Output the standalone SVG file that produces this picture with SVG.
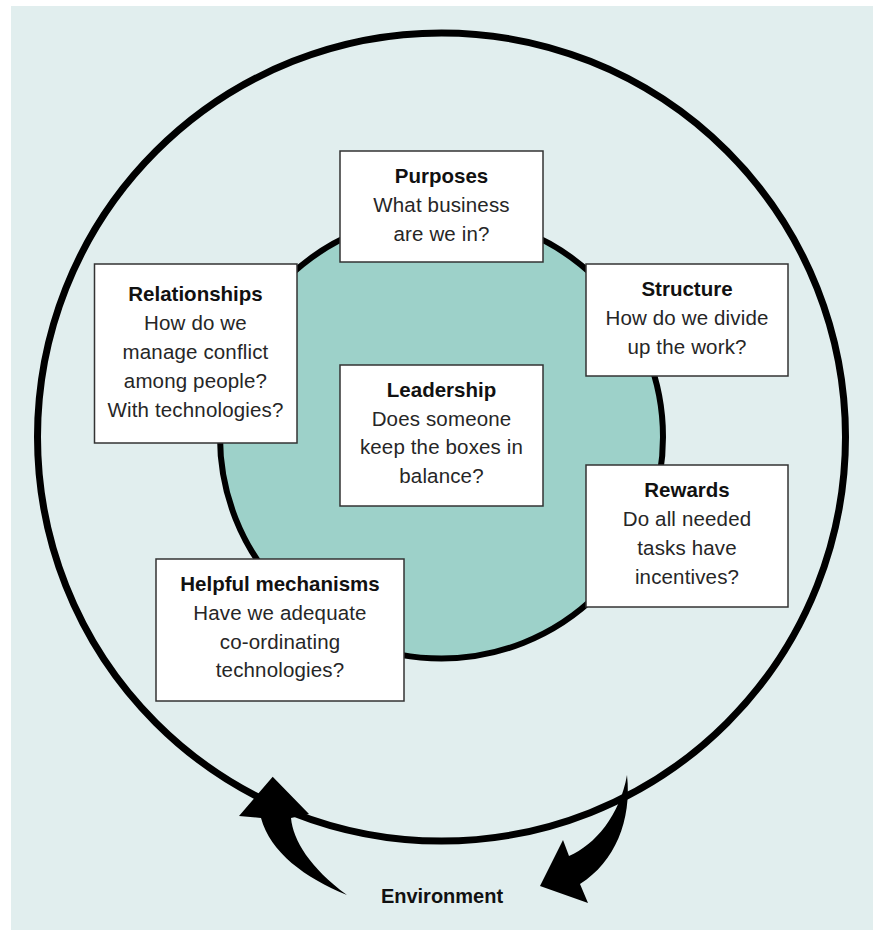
<svg xmlns="http://www.w3.org/2000/svg" width="879" height="936" viewBox="0 0 879 936">
<style>
.box{fill:#ffffff;stroke:#333333;stroke-width:1.5}
.t{font-family:"Liberation Sans",Arial,Helvetica,sans-serif;font-size:20.5px;fill:#262626;text-anchor:middle;letter-spacing:0.15px}
.b{font-weight:bold;fill:#111111;letter-spacing:0}
</style>
<rect x="0" y="0" width="879" height="936" fill="#ffffff"/>
<rect x="11" y="6" width="862" height="924" fill="#e1eeee"/>
<circle cx="441.5" cy="437" r="404" fill="none" stroke="#000" stroke-width="7"/>
<circle cx="441.5" cy="437" r="221.5" fill="#9dd1c9" stroke="#000" stroke-width="6"/>
<g id="arrows">
<path d="M272.7,776.7 L309,814 L291,818 C293,840 310,868 347,895 C305,878 270,852 261,818 L239,816 Z" fill="#000"/>
<path d="M627,775 C632,820 615,862 580,884 L588,903 L540,886 L563,840 L569,856 C595,845 620,815 627,775 Z" fill="#000"/>
</g>
<g id="purposes">
<rect class="box" x="340" y="151" width="203" height="111"/>
<text class="t b" x="441.5" y="183">Purposes</text>
<text class="t" x="441.5" y="212">What business</text>
<text class="t" x="441.5" y="241">are we in?</text>
</g>
<g id="relationships">
<rect class="box" x="94.5" y="264" width="202.5" height="179"/>
<text class="t b" x="195.5" y="301">Relationships</text>
<text class="t" x="195.5" y="330">How do we</text>
<text class="t" x="195.5" y="359">manage conflict</text>
<text class="t" x="195.5" y="388">among people?</text>
<text class="t" x="195.5" y="417">With technologies?</text>
</g>
<g id="structure">
<rect class="box" x="586" y="264" width="202" height="112"/>
<text class="t b" x="687" y="296">Structure</text>
<text class="t" x="687" y="325">How do we divide</text>
<text class="t" x="687" y="354">up the work?</text>
</g>
<g id="leadership">
<rect class="box" x="340" y="365" width="203" height="141"/>
<text class="t b" x="441.5" y="397">Leadership</text>
<text class="t" x="441.5" y="425.5">Does someone</text>
<text class="t" x="441.5" y="454">keep the boxes in</text>
<text class="t" x="441.5" y="482.5">balance?</text>
</g>
<g id="rewards">
<rect class="box" x="586" y="465" width="202" height="142"/>
<text class="t b" x="687" y="497">Rewards</text>
<text class="t" x="687" y="526">Do all needed</text>
<text class="t" x="687" y="555">tasks have</text>
<text class="t" x="687" y="584">incentives?</text>
</g>
<g id="helpful">
<rect class="box" x="156" y="559" width="248" height="142"/>
<text class="t b" x="280" y="591">Helpful mechanisms</text>
<text class="t" x="280" y="620">Have we adequate</text>
<text class="t" x="280" y="648.5">co-ordinating</text>
<text class="t" x="280" y="677">technologies?</text>
</g>
<g id="environment">
<text class="t b" x="442" y="903" style="font-size:20px">Environment</text>
</g>
</svg>
